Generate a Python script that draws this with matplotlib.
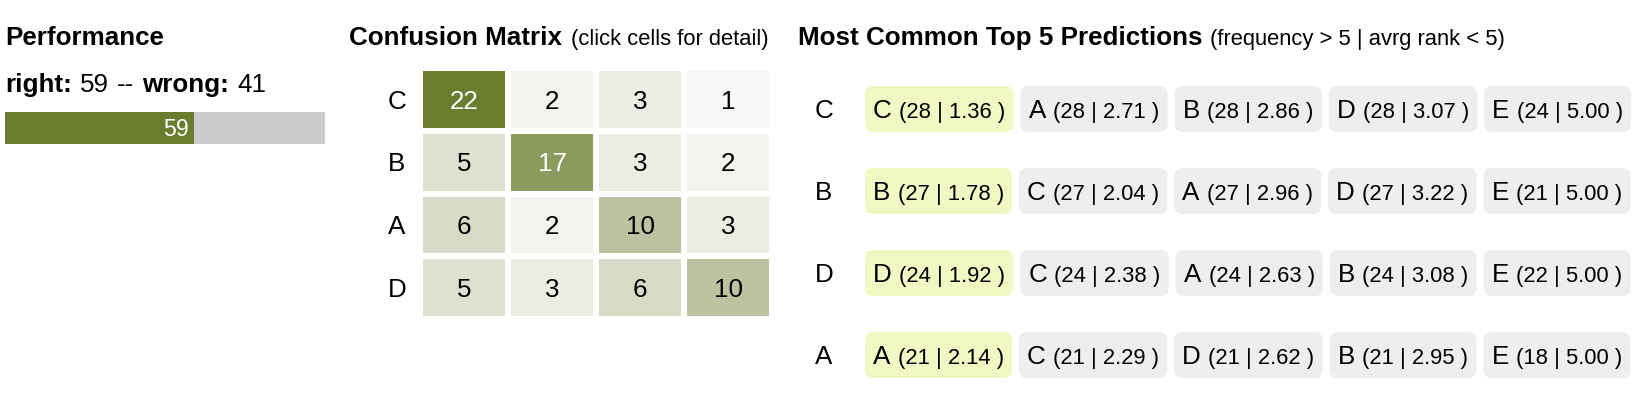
import matplotlib
matplotlib.use("Agg")
import matplotlib.pyplot as plt
import numpy as np
from matplotlib.patches import FancyBboxPatch

FONT = ["Liberation Sans", "DejaVu Sans"]
plt.rcParams["font.family"] = FONT

# performance counts
right, wrong = 59, 41

# confusion matrix (rows = true class, columns in same order)
cm_labels = ["C", "B", "A", "D"]
cm_values = np.array([
    [22, 2, 3, 1],
    [5, 17, 3, 2],
    [6, 2, 10, 3],
    [5, 3, 6, 10],
])

# top-5 predictions per class: label, frequency, average rank
pred_rows = ["C", "B", "D", "A"]
top5_labels = [
    ["C", "A", "B", "D", "E"],
    ["B", "C", "A", "D", "E"],
    ["D", "C", "A", "B", "E"],
    ["A", "C", "D", "B", "E"],
]
top5_freq = [
    [28, 28, 28, 28, 24],
    [27, 27, 27, 27, 21],
    [24, 24, 24, 24, 22],
    [21, 21, 21, 21, 18],
]
top5_rank = [
    [1.36, 2.71, 2.86, 3.07, 5.00],
    [1.78, 2.04, 2.96, 3.22, 5.00],
    [1.92, 2.38, 2.63, 3.08, 5.00],
    [2.14, 2.29, 2.62, 2.95, 5.00],
]

GREEN = (107 / 255, 124 / 255, 46 / 255)
GRAY = "#cccccc"
CHIP = "#eeeeee"
CHIP_HIT = "#eef9c4"

W, H = 1650, 398
fig = plt.figure(figsize=(W / 100, H / 100), dpi=100)
fig.patch.set_facecolor("white")
renderer = fig.canvas.get_renderer()

# full-figure axes in pixel units, y pointing down
base = fig.add_axes([0, 0, 1, 1])
base.set_xlim(0, W)
base.set_ylim(H, 0)
base.axis("off")


def px(size):
    return size * 0.72


def put(x, y, s, size=26, weight="normal", color="black", ha="left"):
    return base.text(x, y, s, fontsize=px(size), fontweight=weight,
                     color=color, ha=ha, va="baseline", zorder=3)


def x1(t):
    return t.get_window_extent(renderer).x1


def pixel_axes(x0, y0, x1_, y1_):
    return fig.add_axes([x0 / W, 1 - y1_ / H, (x1_ - x0) / W, (y1_ - y0) / H])


# --- Performance ---
put(5, 45, "Performance", weight="bold")
x = 5
for s, wt, gap in [("right:", "bold", 8), (str(right), "normal", 8.5),
                   ("--", "normal", 7.5), ("wrong:", "bold", 8),
                   (str(wrong), "normal", 0)]:
    t = put(x, 92, s, weight=wt)
    x = x1(t) + gap

ax_bar = pixel_axes(5, 112, 325, 144)
ax_bar.barh([0], [right], height=1, color=GREEN)
ax_bar.barh([0], [wrong], left=right, height=1, color=GRAY)
ax_bar.set_xlim(0, right + wrong)
ax_bar.set_ylim(-0.5, 0.5)
ax_bar.axis("off")
ax_bar.annotate(str(right), (right, 0), xytext=(-4.5, -8.2),
                textcoords="offset pixels", ha="right", va="baseline",
                color="white", fontsize=px(23))

# --- Confusion matrix ---
t = put(349, 45, "Confusion Matrix", weight="bold")
put(x1(t) + 9, 45, "(click cells for detail)", size=22)

ax_cm = pixel_axes(420, 68, 772, 319)
ax_cm.set_xlim(0, 4)
ax_cm.set_ylim(4, 0)
ax_cm.axis("off")
n = len(cm_labels)
cell_w, cell_h = 82 / 88, 56.75 / 62.75
vmax = cm_values.max()
for i in range(n):
    a = cm_values[i] / vmax
    colors = [(1 - k * (1 - GREEN[0]), 1 - k * (1 - GREEN[1]), 1 - k * (1 - GREEN[2])) for k in a]
    ax_cm.bar(np.arange(n) + 0.5, cell_h, bottom=i + 0.5 - cell_h / 2,
              width=cell_w, color=colors)
    ax_cm.annotate(cm_labels[i], (0, i + 0.5), xytext=(-23, -9.3),
                   textcoords="offset pixels", ha="center", va="baseline",
                   fontsize=px(26))
    for j, v in enumerate(cm_values[i]):
        ax_cm.annotate(str(v), (j + 0.5, i + 0.5), xytext=(0, -9.3),
                       textcoords="offset pixels", ha="center", va="baseline",
                       fontsize=px(26),
                       color="white" if a[j] > 0.5 else "black")

# --- Most common top 5 predictions ---
t = put(798, 45, "Most Common Top 5 Predictions", weight="bold")
put(x1(t) + 8, 45, "(frequency > 5 | avrg rank < 5)", size=22)

row_y = [109, 191, 273, 355]
for r, lab in enumerate(pred_rows):
    yc = row_y[r]
    put(815, yc + 9.3, lab)
    cx = 865
    for k in range(5):
        guess = top5_labels[r][k]
        tl = put(cx + 8, yc + 9.3, guess)
        tn = put(x1(tl) + 7.5, yc + 9.3,
                 f"({top5_freq[r][k]} | {top5_rank[r][k]:.2f} )", size=22)
        cw = x1(tn) + 8 - cx
        base.add_patch(FancyBboxPatch(
            (cx, yc - 23), cw, 46,
            boxstyle="round,pad=0,rounding_size=8", linewidth=0,
            facecolor=CHIP_HIT if guess == lab else CHIP, zorder=1))
        cx += cw + 7

fig.savefig("out.png", dpi=100, facecolor="white")
